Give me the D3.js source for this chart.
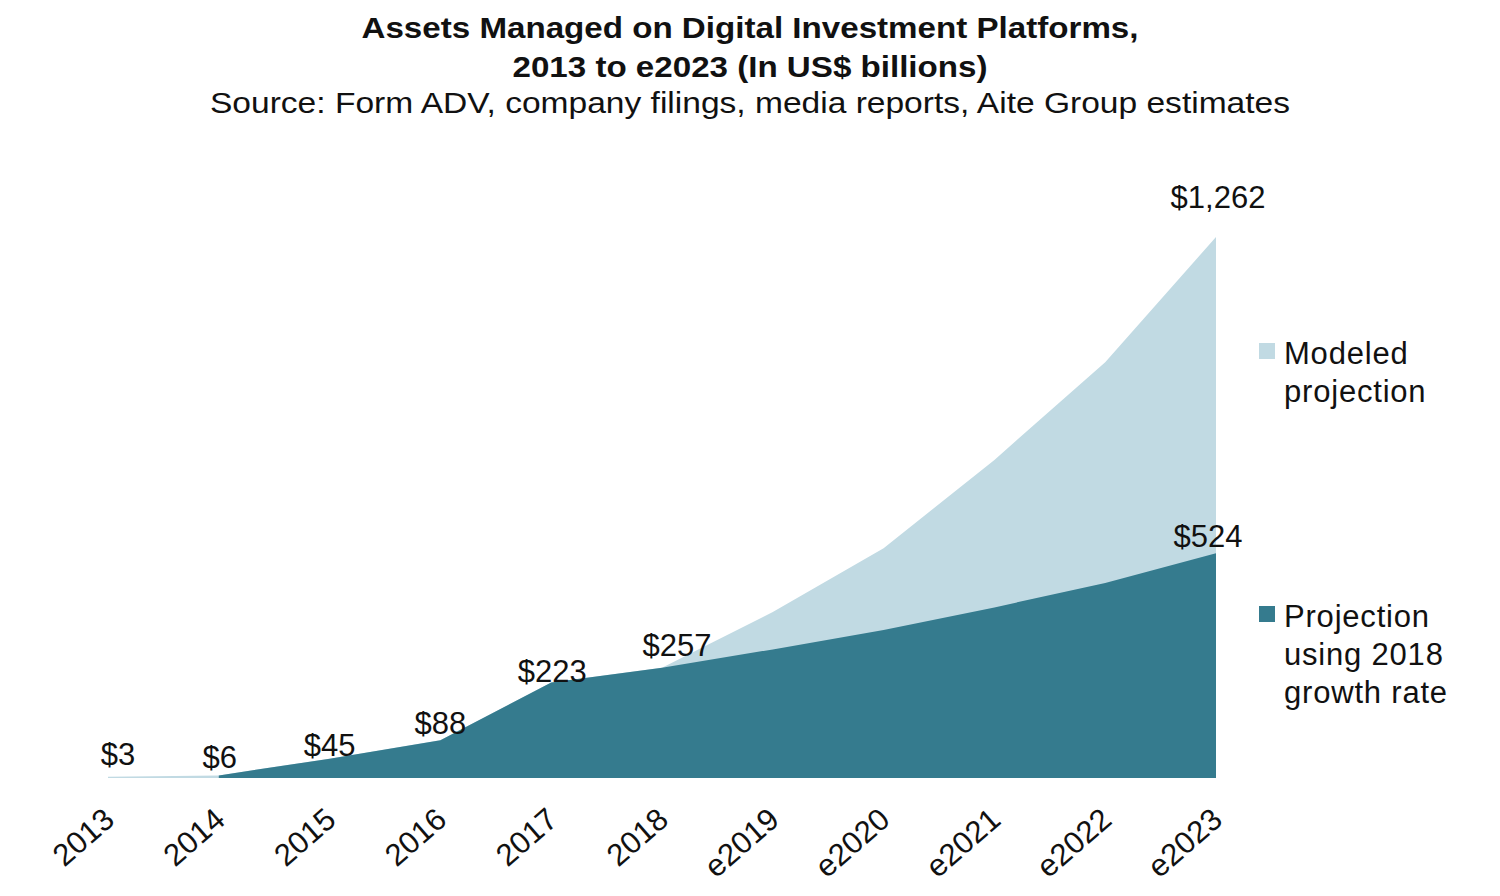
<!DOCTYPE html>
<html>
  <head>
    <meta charset="utf-8" />
    <title>Assets Managed on Digital Investment Platforms</title>
    <style>
      body { margin: 0; background: #fff; }
      svg text { font-family: "Liberation Sans", Arial, sans-serif; fill: #111; }
    </style>
  </head>
  <body>
    <svg id="chart" width="1500" height="896"></svg>
    <script src="https://d3js.org/d3.v7.min.js"></script>
    <script>
      // values (US$ billions)
      const years = ["2013", "2014", "2015", "2016", "2017", "2018",
        "e2019", "e2020", "e2021", "e2022", "e2023"];
      const modeled = [3, 6, 45, 88, 223, 257, 387, 536, 742, 970, 1262];
      const growth = [null, 6, 45, 88, 223, 257, 300, 345, 398, 455, 524];
      const labelIdx = [0, 1, 2, 3, 4, 5, 10, 10];
      const labelVal = [3, 6, 45, 88, 223, 257, 524, 1262];
      const labelText = ["$3", "$6", "$45", "$88", "$223", "$257", "$524", "$1,262"];
      const legendNames = [["Modeled", "projection"], ["Projection", "using 2018", "growth rate"]];

      const colors = ["#c1dae3", "#357b8e"];
      // hand nudges for the data labels, [dx, gap above point]
      const nudge = [[10, 12], [1, 7], [0, 3], [0, 6], [1, 0], [15, 12], [-8, 6], [2, 29]];

      const svg = d3.select("#chart");

      const x = d3.scalePoint().domain(years).range([108, 1216]);
      const y = d3.scaleLinear().domain([0, 1262]).range([778, 237]);

      // titles
      const titles = [
        { t: "Assets Managed on Digital Investment Platforms,", y: 38, w: 777, bold: true },
        { t: "2013 to e2023 (In US$ billions)", y: 77, w: 475, bold: true },
        { t: "Source: Form ADV, company filings, media reports, Aite Group estimates", y: 113, w: 1080, bold: false }
      ];
      svg.selectAll(".title")
        .data(titles)
        .enter()
        .append("text")
        .attr("class", "title")
        .attr("x", 750)
        .attr("y", (d) => d.y)
        .attr("text-anchor", "middle")
        .attr("font-size", 30)
        .attr("font-weight", (d) => (d.bold ? "bold" : "normal"))
        .attr("textLength", (d) => d.w)
        .attr("lengthAdjust", "spacingAndGlyphs")
        .text((d) => d.t);

      const area = (vals) =>
        d3.area()
          .defined((d) => d != null)
          .x((d, i) => x(years[i]))
          .y0(y(0))
          .y1((d) => y(d))(vals);

      svg.append("path")
        .attr("d", area(modeled))
        .attr("fill", colors[0]);

      svg.append("path")
        .attr("d", area(growth))
        .attr("fill", colors[1]);

      // data labels
      svg.selectAll(".lbl")
        .data(labelText)
        .enter()
        .append("text")
        .attr("class", "lbl")
        .attr("x", (d, i) => x(years[labelIdx[i]]) + nudge[i][0])
        .attr("y", (d, i) => y(labelVal[i]) - nudge[i][1])
        .attr("text-anchor", "middle")
        .attr("font-size", 31)
        .text((d) => d);

      // x axis labels, rotated
      svg.selectAll(".xt")
        .data(years)
        .enter()
        .append("text")
        .attr("class", "xt")
        .attr("text-anchor", "end")
        .attr("font-size", 31)
        .attr("transform", (d) => `translate(${x(d) - 6},${806}) rotate(-41)`)
        .attr("dy", "0.7em")
        .text((d) => d);

      // legend
      const lg = svg.selectAll(".lg")
        .data(legendNames)
        .enter()
        .append("g")
        .attr("class", "lg")
        .attr("transform", (d, i) => `translate(1259,${i === 0 ? 343 : 606})`);

      lg.append("rect")
        .attr("width", 16)
        .attr("height", 16)
        .attr("fill", (d, i) => colors[i]);

      lg.each(function (d) {
        const t = d3.select(this)
          .append("text")
          .attr("font-size", 31)
          .attr("letter-spacing", 0.8);
        d.forEach((line, k) => {
          t.append("tspan")
            .attr("x", 25)
            .attr("y", 21 + k * 38)
            .text(line);
        });
      });
    </script>
  </body>
</html>
